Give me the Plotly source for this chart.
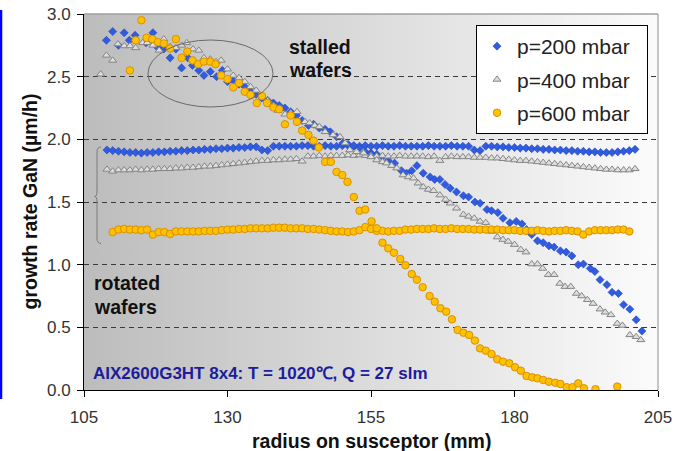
import base64
import plotly.graph_objects as go

# ---------------- data ----------------
# rotated wafers (radius in mm, growth rate in um/h)
rot_radius = [109, 110, 111, 112, 113, 114, 115, 116, 117, 118, 119, 120, 121, 122, 123, 124, 125,
              126, 127, 128, 129, 130, 131, 132, 133, 134, 135, 136, 137, 138, 139, 140, 141, 142,
              143, 144, 145, 146, 147, 148, 149, 150, 151, 152, 153, 154, 155, 156, 157, 158, 159,
              160, 161, 162, 163, 164, 165, 166, 167, 168, 169, 170, 171, 172, 173, 174, 175, 176,
              177, 178, 179, 180, 181, 182, 183, 184, 185, 186, 187, 188, 189, 190, 191, 192, 193,
              194, 195, 196, 197, 198, 199, 200, 201]
rot_200 = [1.915, 1.91, 1.905, 1.90, 1.895, 1.895, 1.89, 1.895, 1.895, 1.90, 1.90, 1.905, 1.905,
           1.91, 1.91, 1.915, 1.915, 1.92, 1.92, 1.925, 1.925, 1.93, 1.93, 1.935, 1.935, 1.94,
           1.94, 1.915, 1.91, 1.945, 1.945, 1.945, 1.945, 1.945, 1.95, 1.95, 1.945, 1.945, 1.95,
           1.945, 1.945, 1.95, 1.95, 1.945, 1.945, 1.95, 1.945, 1.945, 1.95, 1.945, 1.945, 1.95,
           1.945, 1.945, 1.945, 1.945, 1.95, 1.945, 1.945, 1.945, 1.95, 1.945, 1.945, 1.945,
           1.915, 1.91, 1.945, 1.945, 1.94, 1.94, 1.935, 1.935, 1.93, 1.93, 1.925, 1.925, 1.92,
           1.92, 1.915, 1.915, 1.91, 1.91, 1.905, 1.905, 1.90, 1.90, 1.895, 1.895, 1.895, 1.90,
           1.905, 1.91, 1.92]
rot_400 = [1.76, 1.745, 1.755, 1.755, 1.755, 1.76, 1.755, 1.76, 1.76, 1.765, 1.765, 1.765, 1.77,
           1.77, 1.775, 1.775, 1.78, 1.785, 1.785, 1.79, 1.795, 1.80, 1.805, 1.81, 1.815, 1.82,
           1.825, 1.83, 1.83, 1.835, 1.835, 1.84, 1.84, 1.845, 1.825, 1.865, 1.865, 1.87, 1.865,
           1.87, 1.87, 1.87, 1.875, 1.87, 1.875, 1.87, 1.87, 1.865, 1.87, 1.865, 1.865, 1.87,
           1.865, 1.865, 1.865, 1.865, 1.86, 1.865, 1.83, 1.86, 1.865, 1.86, 1.86, 1.86, 1.855,
           1.855, 1.855, 1.85, 1.85, 1.845, 1.84, 1.835, 1.83, 1.83, 1.825, 1.82, 1.815, 1.81,
           1.805, 1.80, 1.795, 1.79, 1.785, 1.78, 1.775, 1.77, 1.765, 1.76, 1.76, 1.755, 1.755,
           1.755, 1.765]
rot_radius_600 = [110, 111, 112, 113, 114, 115, 116, 117, 118, 119, 120, 121, 122, 123, 124, 125,
                  126, 127, 128, 129, 130, 131, 132, 133, 134, 135, 136, 137, 138, 139, 140, 141,
                  142, 143, 144, 145, 146, 147, 148, 149, 150, 151, 152, 153, 154, 155, 156, 157,
                  158, 159, 160, 161, 162, 163, 164, 165, 166, 167, 168, 169, 170, 171, 172, 173,
                  174, 175, 176, 177, 178, 179, 180, 181, 182, 183, 184, 185, 186, 187, 188, 189,
                  190, 191, 192, 193, 194, 195, 196, 197, 198, 199, 200]
rot_600 = [1.26, 1.28, 1.285, 1.28, 1.28, 1.275, 1.28, 1.24, 1.26, 1.26, 1.245, 1.265, 1.265,
           1.265, 1.265, 1.265, 1.27, 1.27, 1.27, 1.275, 1.28, 1.28, 1.285, 1.285, 1.29, 1.29,
           1.29, 1.29, 1.295, 1.295, 1.295, 1.29, 1.29, 1.29, 1.285, 1.285, 1.28, 1.275, 1.27,
           1.265, 1.265, 1.26, 1.265, 1.275, 1.30, 1.285, 1.27, 1.27, 1.265, 1.27, 1.27, 1.28,
           1.28, 1.285, 1.285, 1.285, 1.29, 1.285, 1.285, 1.29, 1.285, 1.285, 1.285, 1.28, 1.28,
           1.28, 1.28, 1.28, 1.275, 1.275, 1.275, 1.27, 1.27, 1.27, 1.275, 1.27, 1.265, 1.27,
           1.27, 1.275, 1.27, 1.265, 1.24, 1.265, 1.275, 1.275, 1.275, 1.275, 1.28, 1.28, 1.265]

# stalled wafers
stall_radius_200 = [108.9, 110.0, 111.0, 112.0, 112.9, 113.9, 115.8, 117.0, 117.9, 118.9, 120.0,
                    121.0, 122.0, 123.1, 123.9, 125.0, 125.9, 127.0, 128.1, 129.1, 130.0, 131.0,
                    132.0, 133.0, 134.0, 135.0, 136.0, 137.0, 138.0, 139.0, 140.0, 141.0, 142.0,
                    143.0, 144.1, 145.0, 146.0, 147.0, 147.9, 149.0, 150.1, 151.0, 152.0, 153.0,
                    154.0, 155.0, 156.0, 157.0, 158.0, 159.1, 160.3, 161.2, 162.1, 163.0, 164.1,
                    165.3, 166.1, 167.0, 167.9, 168.8, 169.9, 171.1, 172.0, 173.1, 174.0, 175.2,
                    176.0, 177.1, 178.0, 179.2, 180.3, 181.3, 182.1, 183.0, 184.0, 185.0, 186.0,
                    186.9, 188.0, 189.0, 190.0, 191.1, 192.0, 193.2, 194.0, 194.9, 196.1, 197.0,
                    198.1, 199.0, 200.1, 201.2, 202.2]
stall_200 = [2.79, 2.86, 2.75, 2.85, 2.79, 2.83, 2.77, 2.85, 2.73, 2.72, 2.65, 2.72, 2.57, 2.65,
             2.59, 2.55, 2.51, 2.54, 2.50, 2.55, 2.46, 2.47, 2.44, 2.42, 2.38, 2.36, 2.33, 2.31,
             2.29, 2.27, 2.25, 2.22, 2.19, 2.15, 2.11, 2.12, 2.09, 2.08, 2.06, 2.02, 1.97, 1.96,
             1.95, 1.93, 1.90, 1.89, 1.88, 1.86, 1.83, 1.81, 1.75, 1.73, 1.75, 1.79, 1.73, 1.70,
             1.68, 1.68, 1.64, 1.61, 1.58, 1.55, 1.54, 1.50, 1.49, 1.44, 1.43, 1.415, 1.37, 1.335,
             1.345, 1.325, 1.28, 1.24, 1.19, 1.175, 1.15, 1.14, 1.11, 1.10, 1.07, 1.00, 1.005,
             0.97, 0.945, 0.88, 0.84, 0.78, 0.77, 0.68, 0.645, 0.56, 0.47]

stall_radius_400 = [107.9, 108.9, 110.0, 110.9, 112.0, 113.0, 114.0, 115.2, 116.0, 117.0, 118.1,
                    118.9, 120.0, 121.0, 122.0, 122.9, 124.0, 125.0, 125.9, 127.0, 128.0, 128.9,
                    130.0, 131.0, 132.0, 133.0, 134.0, 135.0, 136.0, 137.0, 138.0, 138.8, 140.0,
                    141.0, 142.1, 143.5, 144.3, 145.2, 146.0, 147.0, 148.4, 149.6, 150.5, 151.3,
                    152.5, 153.7, 155.0, 156.0, 157.0, 157.7, 158.6, 159.5, 160.6, 161.5, 162.4,
                    163.2, 164.1, 165.0, 165.9, 167.0, 168.0, 168.8, 169.9, 171.1, 172.0, 173.0,
                    174.0, 175.0, 176.0, 177.0, 178.0, 178.9, 180.0, 181.1, 182.0, 183.0, 184.0,
                    184.9, 185.9, 186.9, 187.9, 188.8, 189.8, 190.8, 191.7, 192.7, 193.7, 194.9,
                    195.8, 196.8, 197.9, 198.8, 200.1, 201.2, 202.0]
stall_400 = [2.52, 2.67, 2.63, 2.76, 2.745, 2.745, 2.73, 2.77, 2.77, 2.75, 2.71, 2.80, 2.74, 2.73,
             2.75, 2.77, 2.72, 2.71, 2.65, 2.64, 2.62, 2.63, 2.56, 2.51, 2.49, 2.46, 2.42, 2.39,
             2.35, 2.31, 2.27, 2.23, 2.20, 2.21, 2.22, 2.14, 2.13, 2.11, 2.10, 2.06, 2.035, 2.02,
             1.97, 1.915, 1.90, 1.89, 1.86, 1.835, 1.82, 1.81, 1.79, 1.77, 1.715, 1.70, 1.69,
             1.65, 1.62, 1.60, 1.59, 1.555, 1.52, 1.49, 1.45, 1.40, 1.385, 1.37, 1.345, 1.335,
             1.265, 1.22, 1.20, 1.185, 1.16, 1.12, 1.10, 1.005, 1.005, 0.97, 0.92, 0.92, 0.85,
             0.825, 0.825, 0.77, 0.75, 0.72, 0.69, 0.645, 0.62, 0.60, 0.53, 0.515, 0.44, 0.425,
             0.40]

stall_radius_600 = [113.0, 114.0, 115.0, 115.9, 116.9, 117.9, 118.9, 120.0, 121.0, 122.0, 123.0,
                    123.9, 124.9, 125.9, 127.0, 127.9, 128.9, 130.0, 131.0, 132.0, 133.0, 134.0,
                    135.1, 136.0, 136.9, 138.0, 139.0, 140.0, 141.0, 142.1, 143.0, 144.1, 145.0,
                    145.9, 147.0, 148.0, 149.0, 150.0, 150.9, 152.0, 153.0, 154.0, 155.1, 156.0,
                    157.0, 158.0, 159.0, 160.1, 161.0, 162.1, 163.0, 164.0, 165.2, 166.1, 167.1,
                    168.1, 169.1, 170.1, 171.1, 172.1, 173.1, 174.0, 175.0, 176.0, 177.0, 178.0,
                    179.1, 180.1, 181.1, 182.1, 183.1, 184.0, 185.0, 186.0, 187.1, 188.0, 189.1,
                    190.1, 191.1, 192.1, 194.1, 197.9]
stall_600 = [2.55, 2.79, 2.95, 2.81, 2.80, 2.775, 2.765, 2.725, 2.80, 2.65, 2.70, 2.63, 2.60,
             2.62, 2.62, 2.60, 2.51, 2.48, 2.415, 2.45, 2.38, 2.355, 2.29, 2.345, 2.29, 2.255,
             2.24, 2.12, 2.19, 2.14, 2.07, 2.035, 1.99, 1.935, 1.82, 1.82, 1.74, 1.715, 1.66,
             1.54, 1.43, 1.44, 1.345, 1.29, 1.175, 1.13, 1.095, 1.045, 0.995, 0.925, 0.88, 0.82,
             0.75, 0.705, 0.652, 0.625, 0.564, 0.479, 0.457, 0.439, 0.394, 0.332, 0.314, 0.287,
             0.245, 0.226, 0.213, 0.181, 0.154, 0.112, 0.101, 0.093, 0.08, 0.066, 0.058, 0.048,
             0.022, 0.022, 0.053, 0.014, 0.006, 0.027]

series_names = ["p=200 mbar", "p=400 mbar", "p=600 mbar"]
y_ticks = [0.0, 0.5, 1.0, 1.5, 2.0, 2.5, 3.0]
x_ticks = [105, 130, 155, 180, 205]

# ---------------- layout geometry ----------------
W, H = 684, 451
ML, MR, MT, MB = 84, 26, 14, 61
PW, PH = W - ML - MR, H - MT - MB
X0, X1, Y0, Y1 = 105, 205, 0.0, 3.0
FONT = "Liberation Sans, Arial, sans-serif"


def px_to_x(p):
    return X0 + (p - ML) * (X1 - X0) / PW


def px_to_y(p):
    return Y0 + (MT + PH - p) * (Y1 - Y0) / PH


def paper_x(p):
    return (p - ML) / PW


def paper_y(p):
    return (MT + PH - p) / PH


styles = [
    dict(symbol="diamond", size=6.2, color="#2f5ce0", line=dict(color="#2444b8", width=0.6)),
    dict(symbol="triangle-up", size=7, color="#dedede", line=dict(color="#858585", width=1)),
    dict(symbol="circle", size=7.5, color="#ffc000", line=dict(color="#d99000", width=1)),
]
stalled = [(stall_radius_200, stall_200), (stall_radius_400, stall_400), (stall_radius_600, stall_600)]
rotated = [(rot_radius, rot_200), (rot_radius, rot_400), (rot_radius_600, rot_600)]

fig = go.Figure()
for i, name in enumerate(series_names):
    for j, (xs, ys) in enumerate([rotated[i], stalled[i]]):
        fig.add_trace(go.Scatter(
            x=xs, y=ys, mode="markers", name=name + "\u00a0\u00a0",
            legendgroup=name, showlegend=(j == 0),
            marker=styles[i], hoverinfo="x+y",
        ))

# horizontal grey-to-white gradient behind the plot area
svg = ('<svg xmlns="http://www.w3.org/2000/svg" width="200" height="20" viewBox="0 0 200 20" '
       'preserveAspectRatio="none"><defs><linearGradient id="g" x1="0" x2="1" y1="0" y2="0">'
       '<stop offset="0" stop-color="#bcbcbc"/><stop offset="1" stop-color="#fbfbfb"/>'
       '</linearGradient></defs><rect width="200" height="20" fill="url(#g)"/></svg>')
bg_src = "data:image/svg+xml;base64," + base64.b64encode(svg.encode()).decode()

shapes = [
    # top / right frame
    dict(type="line", xref="paper", yref="paper", x0=0, x1=1, y0=1, y1=1,
         line=dict(color="#a0a0a0", width=1.5)),
    dict(type="line", xref="paper", yref="paper", x0=1, x1=1, y0=0, y1=1,
         line=dict(color="#a0a0a0", width=1.2)),
    # ellipse around stalled-wafer data
    dict(type="circle", xref="x", yref="y",
         x0=px_to_x(148), x1=px_to_x(273), y0=px_to_y(107), y1=px_to_y(40),
         line=dict(color="#6a6a6a", width=1)),
    # blue bar at the left edge
    dict(type="line", xref="paper", yref="paper",
         x0=paper_x(1), x1=paper_x(1), y0=paper_y(399), y1=paper_y(10),
         line=dict(color="#0000ff", width=2.5)),
]

# curly brace grouping the rotated-wafer data
bp = [(101, 147), (97, 147), (97, 152), (97, 191), (97, 196.5), (94.5, 196.5),
      (97, 196.5), (97, 202), (97, 238), (97, 243.5), (101, 243.5)]
c = [(px_to_x(a), px_to_y(b)) for a, b in bp]
path = ("M {0[0]},{0[1]} Q {1[0]},{1[1]} {2[0]},{2[1]} L {3[0]},{3[1]} "
        "Q {4[0]},{4[1]} {5[0]},{5[1]} Q {6[0]},{6[1]} {7[0]},{7[1]} "
        "L {8[0]},{8[1]} Q {9[0]},{9[1]} {10[0]},{10[1]}").format(*c)
shapes.append(dict(type="path", xref="x", yref="y", path=path,
                   line=dict(color="#7a7a7a", width=1)))


def label(text, xp, yp, size=19.5, color="#111111"):
    return dict(text="<b>%s</b>" % text, x=px_to_x(xp), y=px_to_y(yp), xref="x", yref="y",
                xanchor="left", yanchor="middle", showarrow=False,
                font=dict(family=FONT, size=size, color=color))


annotations = [
    label("stalled", 287, 47.2),
    label("wafers", 287, 69.9),
    label("rotated", 92.3, 283.2),
    label("wafers", 92.3, 306.5),
    label("AIX2600G3HT 8x4: T = 1020\u2103, Q = 27 slm", 90.7, 373.3, size=17, color="#1c1c9c"),
    # axis titles
    dict(text="<b>radius on susceptor (mm)</b>", xref="paper", yref="paper",
         x=paper_x(371), y=paper_y(440.5), xanchor="center", yanchor="middle", showarrow=False,
         font=dict(family=FONT, size=19.5, color="#111111")),
    dict(text="<b>growth rate GaN (\u00b5m/h)</b>", xref="paper", yref="paper",
         x=paper_x(29.5), y=paper_y(202), xanchor="center", yanchor="middle", showarrow=False,
         textangle=-90, font=dict(family=FONT, size=19.5, color="#111111")),
]

fig.update_layout(
    width=W, height=H,
    margin=dict(l=ML, r=MR, t=MT, b=MB, pad=0),
    paper_bgcolor="white", plot_bgcolor="#d8d8d8",
    font=dict(family=FONT, size=17, color="#333333"),
    images=[dict(source=bg_src, xref="paper", yref="paper", x=0, y=1, sizex=1, sizey=1,
                 xanchor="left", yanchor="top", sizing="stretch", layer="below")],
    shapes=shapes,
    annotations=annotations,
    legend=dict(x=paper_x(476), y=paper_y(25), xanchor="left", yanchor="top",
                bgcolor="white", bordercolor="black", borderwidth=1,
                font=dict(family=FONT, size=21, color="#222222"),
                tracegroupgap=3, itemclick=False),
    xaxis=dict(range=[X0, X1], tickvals=x_ticks, ticks="outside", ticklen=6, tickcolor="black",
               showline=True, linecolor="black", linewidth=1, showgrid=False, zeroline=False,
               automargin=False, ticklabelstandoff=6, tickfont=dict(size=17, color="#333333")),
    yaxis=dict(range=[Y0, Y1], tickvals=y_ticks, tickformat=".1f", ticks="outside", ticklen=6,
               tickcolor="black", showline=True, linecolor="black", linewidth=1,
               showgrid=True, gridcolor="#3a3a3a", gridwidth=1, griddash="5px,4px",
               zeroline=False, ticklabelstandoff=3, automargin=False,
               tickfont=dict(size=17, color="#333333")),
    showlegend=True,
)

fig.write_html("out.html")
